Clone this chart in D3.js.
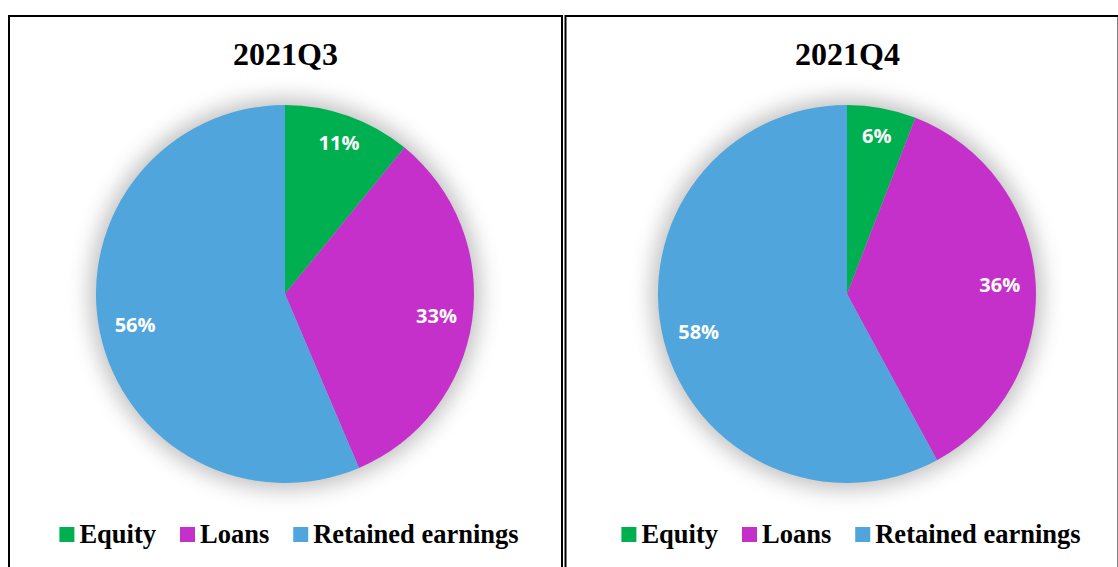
<!DOCTYPE html>
<html>
<head>
<meta charset="utf-8">
<script src="https://cdn.jsdelivr.net/npm/d3@7"></script>
<style>
  html, body { margin: 0; padding: 0; background: #fff; }
  svg { display: block; }
</style>
</head>
<body>
<div id="chart"></div>
<script>
// Data
const categories = ["Equity", "Loans", "Retained earnings"];
const quarters = ["2021Q3", "2021Q4"];
const q3Values = [10.9, 32.7, 56.4];
const q4Values = [5.9, 36.2, 57.9];
const seriesValues = [q3Values, q4Values];

const colors = ["#00B050", "#C630CA", "#4FA5DC"];

const width = 1118, height = 567;
const R = 189;
// panel frames and pie centres
const panels = [
    { x: 9, w: 553, cx: 285 },
    { x: 565.5, w: 553, cx: 847 }
];
const cy = 294;

const svg = d3.select("#chart").append("svg")
    .attr("width", width)
    .attr("height", height);

const defs = svg.append("defs");
const glow = defs.append("filter")
    .attr("id", "glow")
    .attr("x", "-30%").attr("y", "-30%")
    .attr("width", "160%").attr("height", "160%");
glow.append("feGaussianBlur").attr("stdDeviation", 11);

const pie = d3.pie().sort(null).value(d => d);
const arc = d3.arc().innerRadius(0).outerRadius(R);
const fmt = v => Math.round(v) + "%";

quarters.forEach((q, i) => {
    const p = panels[i];
    const g = svg.append("g");

    // frame
    g.append("rect")
        .attr("x", p.x).attr("y", 16)
        .attr("width", p.w).attr("height", 600)
        .attr("fill", "none")
        .attr("stroke", "#000")
        .attr("stroke-width", 2);

    // title
    g.append("text")
        .attr("x", p.cx + 0.5).attr("y", 65)
        .attr("text-anchor", "middle")
        .style("font-family", "'Liberation Serif', 'Times New Roman', serif")
        .style("font-weight", "bold")
        .style("font-size", "32px")
        .text(q);

    const pg = g.append("g").attr("transform", `translate(${p.cx},${cy})`);

    // soft shadow round the pie
    pg.append("circle")
        .attr("r", R + 6)
        .attr("fill", "#000")
        .attr("opacity", 0.25)
        .attr("filter", "url(#glow)");

    const arcs = pie(seriesValues[i]);

    pg.selectAll("path.slice")
        .data(arcs)
        .enter().append("path")
        .attr("class", "slice")
        .attr("d", arc)
        .attr("fill", (d, j) => colors[j]);

    // labels, small slices sit a bit further out
    pg.selectAll("text.lbl")
        .data(arcs)
        .enter().append("text")
        .attr("class", "lbl")
        .attr("transform", d => {
            const r = (d.endAngle - d.startAngle) < 0.8 ? 161 : 153;
            const a = (d.startAngle + d.endAngle) / 2;
            return `translate(${Math.sin(a) * r},${-Math.cos(a) * r})`;
        })
        .attr("text-anchor", "middle")
        .attr("dy", "0.36em")
        .style("font-family", "'Open Sans', sans-serif")
        .style("font-weight", "bold")
        .style("font-size", "20px")
        .attr("fill", "#fff")
        .text(d => fmt(d.data));

    // legend
    const lg = g.append("g");
    const items = lg.selectAll("g.item")
        .data(categories)
        .enter().append("g")
        .attr("class", "item");
    items.append("rect")
        .attr("width", 15).attr("height", 15)
        .attr("y", -16)
        .attr("fill", (d, j) => colors[j]);
    items.append("text")
        .attr("x", 20)
        .style("font-family", "'Liberation Serif', 'Times New Roman', serif")
        .style("font-weight", "bold")
        .style("font-size", "26.5px")
        .text(d => d);

    let xPos = 0;
    items.each(function () {
        const w = this.querySelector("text").getComputedTextLength() + 20;
        d3.select(this).attr("transform", `translate(${xPos},0)`);
        xPos += w + 24;
    });
    const total = xPos - 24;
    lg.attr("transform", `translate(${p.cx + 4 - total / 2},543)`);
});
</script>
</body>
</html>
